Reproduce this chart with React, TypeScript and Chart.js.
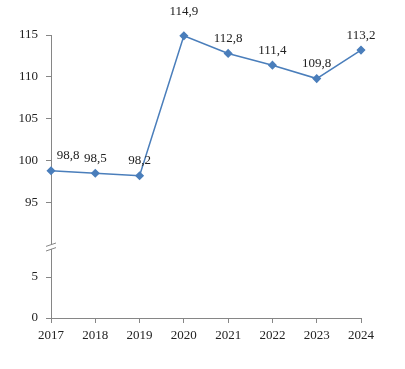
import React, { useEffect, useRef } from "react";
import { Chart, registerables } from "chart.js";

Chart.register(...registerables);

const years = ["2017", "2018", "2019", "2020", "2021", "2022", "2023", "2024"];
const values = [98.8, 98.5, 98.2, 114.9, 112.8, 111.4, 109.8, 113.2];
const upperTicks = [95, 100, 105, 110, 115];
const lowerTicks = [0, 5];
const upperMin = 89.7;
const upperMax = 115;
const lowerMin = 0;
const lowerMax = 8.66;

const FONT = { family: "'Liberation Serif', 'DejaVu Serif', serif", size: 13 };
const AXIS = "#868686";
const LINE = "#4a7ebb";

const labelPlugin = {
  id: "valueLabels",
  afterDatasetsDraw(chart: any) {
    const ctx = chart.ctx;
    const meta = chart.getDatasetMeta(0);
    ctx.save();
    ctx.font = `${FONT.size}px ${FONT.family}`;
    ctx.fillStyle = "#222";
    ctx.textAlign = "center";
    ctx.textBaseline = "middle";
    meta.data.forEach((pt: any, i: number) => {
      let dx = 0;
      let dy = -15;
      if (i === 0) dx = 17;
      if (values[i] === Math.max(...values)) dy = -24;
      const txt = values[i].toFixed(1).replace(".", ",");
      ctx.fillText(txt, pt.x + dx, pt.y + dy);
    });
    ctx.restore();
  },
};

const breakPlugin = {
  id: "axisBreak",
  afterDraw(chart: any) {
    const low = chart.scales.yLow;
    const up = chart.scales.y;
    const by = (low.top + up.bottom) / 2;
    const x = chart.chartArea.left;
    const ctx = chart.ctx;
    ctx.save();
    ctx.fillStyle = "#fff";
    ctx.beginPath();
    ctx.moveTo(x - 3, by - 1.2);
    ctx.lineTo(x + 3, by - 3);
    ctx.lineTo(x + 3, by + 1.2);
    ctx.lineTo(x - 3, by + 3);
    ctx.closePath();
    ctx.fill();
    ctx.strokeStyle = AXIS;
    ctx.lineWidth = 1;
    for (const d of [-2.3, 2.3]) {
      ctx.beginPath();
      ctx.moveTo(x - 5, by + d + 1.7);
      ctx.lineTo(x + 5, by + d - 1.7);
      ctx.stroke();
    }
    ctx.restore();
  },
};

export default function App() {
  const ref = useRef<HTMLCanvasElement | null>(null);
  useEffect(() => {
    if (!ref.current) return;
    const grid = { display: true, drawOnChartArea: false, drawTicks: true, tickLength: 5, color: AXIS };
    const border = { display: true, color: AXIS, width: 1 };
    const chart = new Chart(ref.current, {
      type: "line",
      data: {
        labels: years,
        datasets: [
          {
            data: values,
            yAxisID: "y",
            borderColor: LINE,
            backgroundColor: LINE,
            borderWidth: 1.5,
            pointStyle: "rectRot",
            pointRadius: 3.5,
            pointBackgroundColor: LINE,
            pointBorderColor: LINE,
            tension: 0,
            clip: false,
          },
        ],
      },
      options: {
        responsive: false,
        animation: false,
        events: [],
        layout: { padding: { top: 35, right: 44, bottom: 25, left: 0 } },
        plugins: { legend: { display: false }, tooltip: { enabled: false } },
        scales: {
          x: {
            type: "category",
            offset: false,
            grid,
            border,
            ticks: { font: FONT, color: "#222", padding: 5, maxRotation: 0, autoSkip: false },
            afterFit: (s: any) => {
              s.height = 26;
            },
          },
          yLow: {
            type: "linear",
            position: "left",
            stack: "v",
            stackWeight: 71,
            min: lowerMin,
            max: lowerMax,
            grid,
            border,
            ticks: { font: FONT, color: "#222", padding: 8 },
            afterBuildTicks: (s: any) => {
              s.ticks = lowerTicks.map((v) => ({ value: v }));
            },
            afterFit: (s: any) => {
              s.width = 51;
            },
          },
          y: {
            type: "linear",
            position: "left",
            stack: "v",
            stackWeight: 212,
            min: upperMin,
            max: upperMax,
            grid,
            border,
            ticks: { font: FONT, color: "#222", padding: 8 },
            afterBuildTicks: (s: any) => {
              s.ticks = upperTicks.map((v) => ({ value: v }));
            },
            afterFit: (s: any) => {
              s.width = 51;
            },
          },
        },
      } as any,
      plugins: [labelPlugin, breakPlugin],
    });
    return () => chart.destroy();
  }, []);
  return (
    <div style={{ position: "absolute", left: 0, top: 0, width: 405, height: 369, background: "#fff" }}>
      <canvas ref={ref} width={405} height={369} />
    </div>
  );
}
